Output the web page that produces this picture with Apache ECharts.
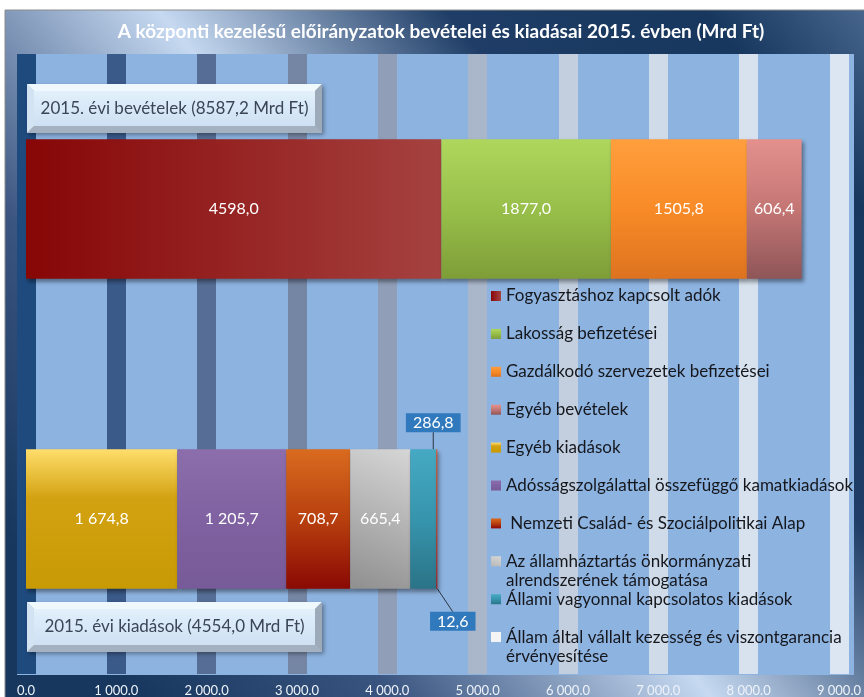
<!DOCTYPE html>
<html>
<head>
<meta charset="utf-8">
<script src="https://cdn.jsdelivr.net/npm/echarts@6/dist/echarts.min.js"></script>
<style>
html, body { margin: 0; padding: 0; background: #fff; }
#main { width: 864px; height: 697px; }
</style>
</head>
<body>
<div id="main"></div>
<script>
// adatok
var categories = ['2015. évi bevételek', '2015. évi kiadások'];
var totalLabels = ['2015. évi bevételek (8587,2 Mrd Ft)', '2015. évi kiadások (4554,0 Mrd Ft)'];

var revenueNames = ['Fogyasztáshoz kapcsolt adók', 'Lakosság befizetései', 'Gazdálkodó szervezetek befizetései', 'Egyéb bevételek'];
var revenueValues = [4598.0, 1877.0, 1505.8, 606.4];

var expenseNames = ['Egyéb kiadások', 'Adósságszolgálattal összefüggő kamatkiadások', ' Nemzeti Család- és Szociálpolitikai Alap',
	'Az államháztartás önkormányzati alrendszerének támogatása', 'Állami vagyonnal kapcsolatos kiadások',
	'Állam által vállalt kezesség és viszontgarancia érvényesítése'];
var expenseValues = [1674.8, 1205.7, 708.7, 665.4, 286.8, 12.6];

var xMin = 0, xMax = 9000, xStep = 1000;

// hosszú jelmagyarázat sorok tördelése
var legendWrap = {
	'Az államháztartás önkormányzati alrendszerének támogatása': 'Az államháztartás önkormányzati\nalrendszerének támogatása',
	'Állam által vállalt kezesség és viszontgarancia érvényesítése': 'Állam által vállalt kezesség és viszontgarancia\nérvényesítése'
};

var FONT = 'Lato';
var G = echarts.graphic.LinearGradient;
function vg(a, b, c) { return new G(0, 0, 0, 1, [{offset: 0, color: a}, {offset: 0.5, color: b}, {offset: 1, color: c}]); }
function hg(a, b) { return new G(0, 0, 1, 0, [{offset: 0, color: a}, {offset: 1, color: b}]); }

var revenueColors = [
	hg('#870606', '#A54240'),
	vg('#AFD65C', '#98BF4A', '#7E9D38'),
	vg('#FF9E3D', '#F88B27', '#DD7320'),
	vg('#E4918E', '#C47674', '#8E5558')
];
var expenseColors = [
	new G(0, 0, 0, 1, [{offset: 0, color: '#FFDE6C'}, {offset: 0.35, color: '#D3A212'}, {offset: 1, color: '#C89A04'}]),
	vg('#8C6EAC', '#8061A1', '#775A98'),
	vg('#D96B1F', '#B8400E', '#8A0904'),
	new G(0, 1, 1, 0, [{offset: 0, color: '#8F8F8F'}, {offset: 1, color: '#D6D6D6'}]),
	vg('#46A9C3', '#3695AD', '#2B7387'),
	vg('#D65A2E', '#C0402A', '#A02020')
];
var stripeColors = ['#1E4A7E', '#3A5A8A', '#566E96', '#7586A4', '#909EB7', '#AAB7CB', '#C3CFDF', '#D0DBE9', '#D7E2EE', '#DCE6F2'];

function fmtPlain(v) { return v.toFixed(1).replace('.', ','); }
function fmtSpaced(v) {
	var s = v.toFixed(1).split('.');
	return s[0].replace(/\B(?=(\d{3})+(?!\d))/g, ' ') + ',' + s[1];
}
function fmtAxis(v) {
	var s = v.toFixed(1).split('.');
	return s[0].replace(/\B(?=(\d{3})+(?!\d))/g, ' ') + '.' + s[1];
}

var barShadow = {shadowBlur: 4, shadowOffsetX: 2, shadowOffsetY: 3, shadowColor: 'rgba(0,0,0,0.4)'};
var series = [];

revenueNames.forEach(function (name, i) {
	series.push({
		name: name,
		type: 'bar',
		stack: 'total',
		barWidth: '45%',
		itemStyle: Object.assign({color: revenueColors[i]}, barShadow),
		label: {show: true, position: 'inside', color: '#fff', fontSize: 16, fontFamily: FONT,
			formatter: function (p) { return fmtPlain(p.value); }},
		data: [revenueValues[i], '-']
	});
});

expenseNames.forEach(function (name, i) {
	var lbl = {show: true, position: 'inside', color: '#fff', fontSize: 16, fontFamily: FONT,
		formatter: function (p) { return fmtSpaced(p.value); }};
	var s = {
		name: name,
		type: 'bar',
		stack: 'total',
		barWidth: '45%',
		itemStyle: Object.assign({color: expenseColors[i]}, barShadow),
		label: lbl,
		data: ['-', expenseValues[i]]
	};
	if (i === 4 || i === 5) {
		// kis értékek: kék címkedoboz vezetővonallal
		lbl.backgroundColor = '#3179BD';
		lbl.padding = [2, 7, 1, 7];
		lbl.position = i === 4 ? 'top' : 'bottom';
		lbl.distance = i === 4 ? 17 : 23;
		s.labelLayout = {dx: i === 4 ? 10 : 16};
		s.labelLine = {show: true, lineStyle: {color: '#2A3340', width: 1}};
	}
	series.push(s);
});

// jelmagyarázat: tételenként külön, hogy a kétsoros tételek is egyenletes közzel álljanak
// kétsoros tételnél a jel egy magasabb (alul üres) path, így a szöveg első sora kerül a jel mellé
var legendNames = revenueNames.concat(expenseNames);
var legends = legendNames.map(function (n, i) {
	var twoLine = !!legendWrap[n];
	var cy = 296 + i * 37.9;
	var item = {name: n};
	if (n === expenseNames[5]) item.itemStyle = {color: '#F4F4F4'};
	return {
		orient: 'vertical',
		left: 491,
		top: cy - 9.5,
		padding: 0,
		itemWidth: 10,
		itemHeight: twoLine ? 29 : 10,
		icon: twoLine ? 'path://M0,0H10V10H0Z M0,29H0.01V29Z' : 'rect',
		selectedMode: false,
		data: [item],
		formatter: function (name) { return legendWrap[name] || name; },
		textStyle: {color: '#15171C', fontSize: 17, fontFamily: FONT, lineHeight: 19}
	};
});

// fejléc, háttér, összeg dobozok
function bevelBox(x, y, w, h, text) {
	var b = 7;
	var z = 20;
	return {
		type: 'group', x: x, y: y,
		children: [
			{type: 'rect', z: z, shape: {x: 0, y: 0, width: w, height: h},
				style: {fill: '#A9B7C6', shadowBlur: 4, shadowOffsetX: 2, shadowOffsetY: 2, shadowColor: 'rgba(0,0,0,0.35)'}},
			{type: 'polygon', z: z, shape: {points: [[0, 0], [w, 0], [w - b, b], [b, b]]}, style: {fill: '#EEF8FD'}},
			{type: 'polygon', z: z, shape: {points: [[0, 0], [b, b], [b, h - b], [0, h]]}, style: {fill: '#D3E3F1'}},
			{type: 'polygon', z: z, shape: {points: [[w, 0], [w, h], [w - b, h - b], [w - b, b]]}, style: {fill: '#9CAABA'}},
			{type: 'polygon', z: z, shape: {points: [[0, h], [b, h - b], [w - b, h - b], [w, h]]}, style: {fill: '#A3B1C1'}},
			{type: 'rect', z: z, shape: {x: b, y: b, width: w - 2 * b, height: h - 2 * b},
				style: {fill: new G(0, 0, 0, 1, [{offset: 0, color: '#E2F0FB'}, {offset: 1, color: '#CEE0F3'}])}},
			{type: 'text', z: z, x: w / 2, y: h / 2,
				style: {text: text, fill: '#3A4555', font: '17px ' + FONT, align: 'center', verticalAlign: 'middle'}}
		]
	};
}

var graphics = [
	{type: 'rect', z: -10, shape: {x: 5, y: 10, width: 870, height: 700},
		style: {stroke: '#8C8C8C', lineWidth: 1,
			fill: new G(1, 0, 0, 1, [
				{offset: 0, color: '#4A6890'}, {offset: 0.12, color: '#17375E'}, {offset: 0.3, color: '#1F3D66'},
				{offset: 0.5, color: '#C6D9F1'}, {offset: 0.72, color: '#3A5580'}, {offset: 0.9, color: '#17375E'},
				{offset: 1, color: '#17375E'}])}},
	{type: 'rect', z: -9, shape: {x: 17, y: 54, width: 837, height: 621}, style: {fill: '#8DB3E1'}},
	{type: 'text', z: 20, x: 441, y: 32,
		style: {text: 'A központi kezelésű előirányzatok bevételei és kiadásai 2015. évben (Mrd Ft)',
			fill: '#fff', font: 'bold 19px ' + FONT, align: 'center', verticalAlign: 'middle'}},
	bevelBox(27, 84, 295, 49, totalLabels[0]),
	bevelBox(27, 602, 295, 50, totalLabels[1])
];

var chart = echarts.init(document.getElementById('main'));
var option = {
	animation: false,
	backgroundColor: '#fff',
	graphic: graphics,
	grid: {left: 26, right: 19, top: 54, bottom: 22},
	legend: legends,
	xAxis: {
		type: 'value',
		min: xMin,
		max: xMax,
		interval: xStep,
		axisLine: {show: false},
		axisTick: {show: false},
		splitLine: {show: true, lineStyle: {color: stripeColors, width: 19}},
		axisLabel: {color: '#EEF3FA', fontSize: 13, fontFamily: FONT, margin: 10, formatter: fmtAxis}
	},
	yAxis: {
		type: 'category',
		inverse: true,
		data: categories,
		axisLine: {show: false},
		axisTick: {show: false},
		axisLabel: {show: false},
		splitLine: {show: false}
	},
	series: series
};
chart.setOption(option);
</script>
</body>
</html>
